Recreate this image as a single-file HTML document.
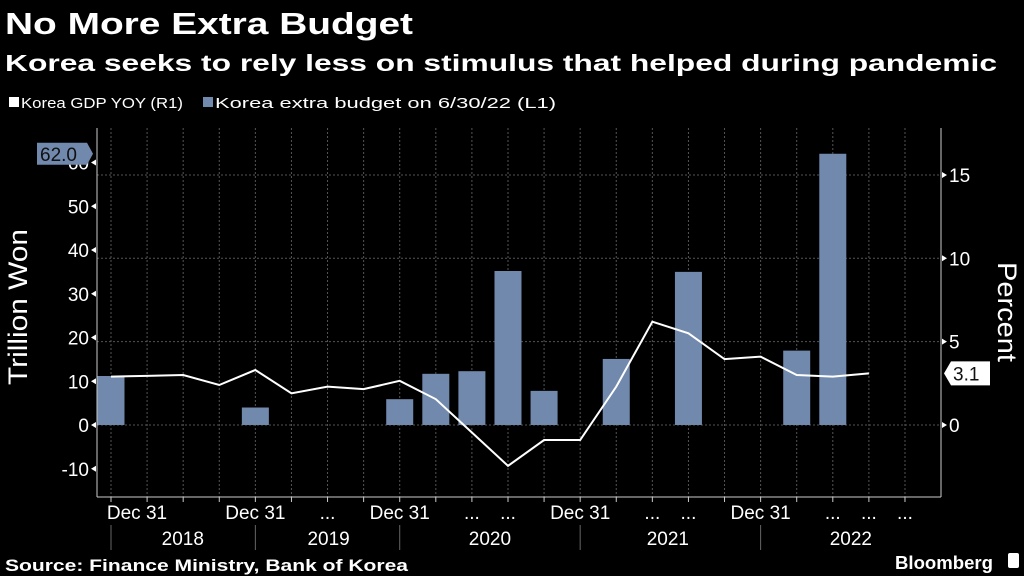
<!DOCTYPE html>
<html><head><meta charset="utf-8"><style>
html,body{margin:0;padding:0;background:#000;}
svg{display:block;font-family:"Liberation Sans",sans-serif;}
</style></head><body>
<svg id="chart" width="1024" height="576" viewBox="0 0 1024 576">
<rect width="1024" height="576" fill="#000"/>
<text x="5" y="34" fill="#fff" font-size="31" font-weight="bold" textLength="408" lengthAdjust="spacingAndGlyphs">No More Extra Budget</text>
<text x="5" y="71" fill="#fff" font-size="23" font-weight="bold" textLength="992" lengthAdjust="spacingAndGlyphs">Korea seeks to rely less on stimulus that helped during pandemic</text>
<g>
<rect x="9" y="97" width="10" height="10" fill="#fff"/>
<text x="21" y="108" fill="#fff" font-size="15" textLength="162" lengthAdjust="spacingAndGlyphs">Korea GDP YOY (R1)</text>
<rect x="203" y="97" width="10" height="10" fill="#7189ad"/>
<text x="215" y="108" fill="#fff" font-size="15" textLength="341" lengthAdjust="spacingAndGlyphs">Korea extra budget on 6/30/22 (L1)</text>
</g>
<g id="grid"></g>
<g id="bars"></g>
<g id="line"></g>
<g id="axes"></g>
<text transform="translate(27,307) rotate(-90)" text-anchor="middle" fill="#fff" font-size="27" textLength="156" lengthAdjust="spacingAndGlyphs">Trillion Won</text>
<text transform="translate(998,312) rotate(90)" text-anchor="middle" fill="#fff" font-size="27" textLength="100" lengthAdjust="spacingAndGlyphs">Percent</text>
<text x="5" y="571" fill="#fff" font-size="17" font-weight="bold" textLength="403" lengthAdjust="spacingAndGlyphs">Source: Finance Ministry, Bank of Korea</text>
<text x="895" y="569" fill="#fff" font-size="18" font-weight="bold" textLength="98" lengthAdjust="spacingAndGlyphs">Bloomberg</text>
<rect x="1008" y="553" width="11" height="15" fill="#fff" rx="2"/>
</svg>
<script>
const quarterCount = 23;
const budgetIdx = [0, 4, 8, 9, 10, 11, 12, 14, 16, 19, 20];
const budgetVals = [11.2, 4.0, 5.9, 11.7, 12.3, 35.2, 7.8, 15.1, 35.0, 17.0, 62.0];
const gdpVals = [2.9, 2.95, 3.0, 2.4, 3.3, 1.9, 2.3, 2.15, 2.65, 1.55, -0.45, -2.45, -0.9, -0.9, 2.3, 6.2, 5.5, 3.95, 4.1, 3.0, 2.9, 3.1];
const leftTicks = [-10, 0, 10, 20, 30, 40, 50, 60];
const rightTicks = [0, 5, 10, 15];
const xLabelIdx = [0, 4, 6, 8, 10, 11, 13, 15, 16, 18, 20, 21, 22];
const xLabels = ["Dec 31", "Dec 31", "...", "Dec 31", "...", "...", "Dec 31", "...", "...", "Dec 31", "...", "...", "..."];
const years = ["2018", "2019", "2020", "2021", "2022"];
const yearCenters = [1.99, 6.03, 10.5, 15.43, 20.5];
const yearSepIdx = [0, 4, 8, 13, 18];

const NS = "http://www.w3.org/2000/svg";
const L = 97, R = 941, T = 128, B = 497;
const x = i => 111 + i * 36.09;
const yL = v => 425 - v * 4.375;
const yR = v => 425 - v * 16.67;
function mk(tag, attrs, parent) { const e = document.createElementNS(NS, tag); for (const k in attrs) e.setAttribute(k, attrs[k]); parent.appendChild(e); return e; }
const grid = document.getElementById('grid'), bars = document.getElementById('bars'), line = document.getElementById('line'), axes = document.getElementById('axes');

for (let i = 0; i < quarterCount; i++) {
  const g = mk('line', {x1: x(i), x2: x(i), y1: T, y2: B, stroke: '#555', 'stroke-dasharray': '2,2'}, grid);
  
  
  const t = mk('line', {x1: x(i), x2: x(i), y1: B, y2: B + 5, stroke: '#ccc'}, axes);
  
  
}
rightTicks.forEach(v => {
  const g = mk('line', {x1: L, x2: R, y1: yR(v), y2: yR(v), stroke: '#555', 'stroke-dasharray': '2,2'}, grid);
  
  
});

const clip = mk('clipPath', {id: 'pc'}, mk('defs', {}, document.getElementById('chart')));
mk('rect', {x: L, y: 0, width: R - L, height: B}, clip);
budgetIdx.forEach((idx, k) => {
  const v = budgetVals[k];
  const r = mk('rect', {x: x(idx) - 13.5, y: yL(v), width: 27, height: yL(0) - yL(v), fill: '#7189ad', 'clip-path': 'url(#pc)'}, bars);
  
  
});
const pts = gdpVals.map((v, i) => x(i) + ',' + yR(v)).join(' ');
const pl = mk('polyline', {points: pts, fill: 'none', stroke: '#fff', 'stroke-width': 2}, line);



const la = mk('line', {x1: L, x2: L, y1: T, y2: B, stroke: '#ccc'}, axes);


const ra = mk('line', {x1: R, x2: R, y1: T, y2: B, stroke: '#ccc'}, axes);


const ba = mk('line', {x1: L, x2: R, y1: B, y2: B, stroke: '#ccc'}, axes);



leftTicks.forEach(v => {
  mk('path', {d: `M${L - 1} ${yL(v) - 3}L${L - 6} ${yL(v)}L${L - 1} ${yL(v) + 3}Z`, fill: '#fff'}, axes);
  const t = mk('text', {x: L - 8, y: yL(v) + 7, 'text-anchor': 'end', fill: '#fff', 'font-size': 19}, axes);
  t.textContent = v;
  
  
});
rightTicks.forEach(v => {
  mk('path', {d: `M${R + 1} ${yR(v) - 3}L${R + 6} ${yR(v)}L${R + 1} ${yR(v) + 3}Z`, fill: '#fff'}, axes);
  const t = mk('text', {x: R + 8, y: yR(v) + 7, fill: '#fff', 'font-size': 19}, axes);
  t.textContent = v;
  
  
});
xLabelIdx.forEach((idx, k) => {
  const cx = idx === 0 ? 137 : x(idx);
  const t = mk('text', {x: cx, y: 519, 'text-anchor': 'middle', fill: '#fff', 'font-size': 19}, axes);
  t.textContent = xLabels[k];
  
  
});
yearSepIdx.forEach(idx => {
  const s = mk('line', {x1: x(idx), x2: x(idx), y1: 525, y2: 550, stroke: '#666'}, axes);
  
  
});
years.forEach((yr, k) => {
  const t = mk('text', {x: x(yearCenters[k]), y: 545, 'text-anchor': 'middle', fill: '#fff', 'font-size': 19}, axes);
  t.textContent = yr;
  
  
});

const lastB = budgetVals[budgetVals.length - 1];
const bTag = mk('g', {}, axes);


const by = Math.max(yL(lastB), 153);
mk('path', {d: `M37 ${by - 11}H87L93 ${by}L87 ${by + 11}H37Z`, fill: '#7189ad'}, bTag);
mk('text', {x: 40, y: by + 7, fill: '#111', 'font-size': 19}, bTag).textContent = lastB.toFixed(1);
const lastG = gdpVals[gdpVals.length - 1];
const gTag = mk('g', {}, axes);


const gy = yR(lastG);
mk('path', {d: `M944 ${gy}L951 ${gy - 12}H990V${gy + 12}H951Z`, fill: '#fff'}, gTag);
mk('text', {x: 953, y: gy + 7, fill: '#111', 'font-size': 19}, gTag).textContent = lastG.toFixed(1);
</script>
</body></html>
